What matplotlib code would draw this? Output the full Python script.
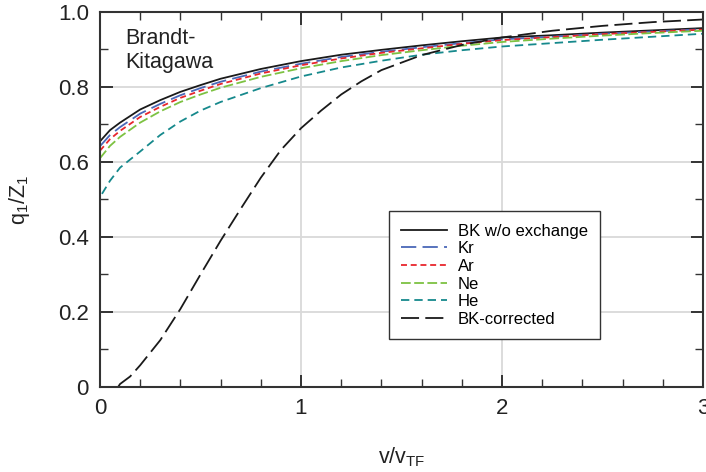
import matplotlib
matplotlib.use("Agg")
import matplotlib.pyplot as plt
from matplotlib.ticker import MultipleLocator, FuncFormatter

plt.rcParams["font.family"] = ["Liberation Sans", "DejaVu Sans"]
plt.rcParams["mathtext.default"] = "regular"
plt.rcParams["lines.scale_dashes"] = False

# values
x_common = [0.0, 0.05, 0.1, 0.2, 0.3, 0.4, 0.5, 0.6, 0.8, 1.0,
            1.2, 1.4, 1.6, 1.8, 2.0, 2.25, 2.5, 2.75, 3.0]
bk_noex = [0.655, 0.685, 0.705, 0.740, 0.765, 0.787, 0.805, 0.822, 0.848, 0.869,
           0.886, 0.899, 0.911, 0.922, 0.932, 0.938, 0.945, 0.951, 0.957]
kr = [0.642, 0.672, 0.693, 0.729, 0.755, 0.778, 0.797, 0.814, 0.841, 0.862,
      0.880, 0.894, 0.906, 0.917, 0.927, 0.934, 0.942, 0.948, 0.954]
ar = [0.630, 0.661, 0.683, 0.720, 0.747, 0.771, 0.790, 0.808, 0.836, 0.858,
      0.876, 0.891, 0.903, 0.915, 0.925, 0.933, 0.941, 0.947, 0.953]
ne = [0.610, 0.643, 0.667, 0.705, 0.735, 0.760, 0.780, 0.798, 0.827, 0.850,
      0.869, 0.885, 0.898, 0.910, 0.920, 0.929, 0.937, 0.944, 0.950]

x_he = [0.01, 0.05, 0.1, 0.2, 0.3, 0.4, 0.5, 0.6, 0.8, 1.0,
        1.2, 1.4, 1.6, 1.8, 2.0, 2.25, 2.5, 2.75, 3.0]
he = [0.515, 0.550, 0.585, 0.628, 0.672, 0.708, 0.737, 0.760, 0.797, 0.828,
      0.852, 0.870, 0.886, 0.898, 0.908, 0.917, 0.926, 0.934, 0.942]

x_corr = [0.09, 0.1, 0.15, 0.2, 0.3, 0.4, 0.5, 0.6, 0.7, 0.8, 0.9, 1.0,
          1.1, 1.2, 1.3, 1.4, 1.6, 1.8, 2.0, 2.25, 2.5, 2.75, 3.0]
bk_corr = [0.0, 0.008, 0.028, 0.058, 0.125, 0.208, 0.300, 0.390, 0.475, 0.558,
           0.632, 0.690, 0.737, 0.780, 0.815, 0.845, 0.885, 0.912, 0.932,
           0.950, 0.963, 0.973, 0.980]

x_ticks = [0, 1, 2, 3]
y_ticks = [0, 0.2, 0.4, 0.6, 0.8, 1.0]

fig = plt.figure(figsize=(7.06, 4.72), dpi=100)
ax = fig.add_axes([0.1416, 0.1801, 0.8542, 0.7945])

lw = 1.3
ax.plot(x_common, bk_noex, color="#1a1a1a", lw=lw, label="BK w/o exchange")
ax.plot(x_common, kr, color="#4a68b8", lw=lw, dashes=(11, 4.5), label="Kr")
ax.plot(x_common, ar, color="#e8262d", lw=lw, dashes=(4.3, 2.7), label="Ar")
ax.plot(x_common, ne, color="#7dc242", lw=lw, dashes=(7, 2.5), label="Ne")
ax.plot(x_he, he, color="#16898c", lw=lw, dashes=(6, 3.6), label="He")
ax.plot(x_corr, bk_corr, color="#1a1a1a", lw=lw, dashes=(13, 4.5), label="BK-corrected")

ax.set_xlim(0, 3)
ax.set_ylim(0, 1)
ax.set_xticks(x_ticks)
ax.set_yticks(y_ticks)
ax.xaxis.set_minor_locator(MultipleLocator(0.2))
ax.yaxis.set_minor_locator(MultipleLocator(0.1))
ax.yaxis.set_major_formatter(FuncFormatter(lambda v, p: "0" if v == 0 else f"{v:.1f}"))

ax.grid(True, which="major", color="#d9d9d9", lw=1.3)
ax.set_axisbelow(True)

ax.tick_params(which="both", direction="in", top=True, right=True,
               colors="#333333", labelcolor="#222222", labelsize=16)
ax.tick_params(which="major", length=9, width=1.4, pad=8)
ax.tick_params(which="minor", length=5.5, width=1.0)
for sp in ax.spines.values():
    sp.set_color("#333333")
    sp.set_linewidth(1.5)

ax.set_xlabel("v/v$_{TF}$", fontsize=15.5, color="#222222")
ax.set_ylabel("q$_1$/Z$_1$", fontsize=15.5, color="#222222")
ax.xaxis.set_label_coords(0.5, -0.155)
ax.yaxis.set_label_coords(-0.113, 0.5)

ax.text(0.042, 0.957, "Brandt-\nKitagawa", transform=ax.transAxes,
        fontsize=15.5, color="#222222", va="top", ha="left", linespacing=1.2)

leg = ax.legend(loc="upper left", bbox_to_anchor=(0.479, 0.469), fontsize=12,
                frameon=True, fancybox=False, framealpha=1, edgecolor="#333333",
                handlelength=2.75, handletextpad=0.62, labelspacing=0.16,
                borderpad=0.75, borderaxespad=0)
leg.get_frame().set_linewidth(1.0)

fig.savefig("out.png", dpi=100)
